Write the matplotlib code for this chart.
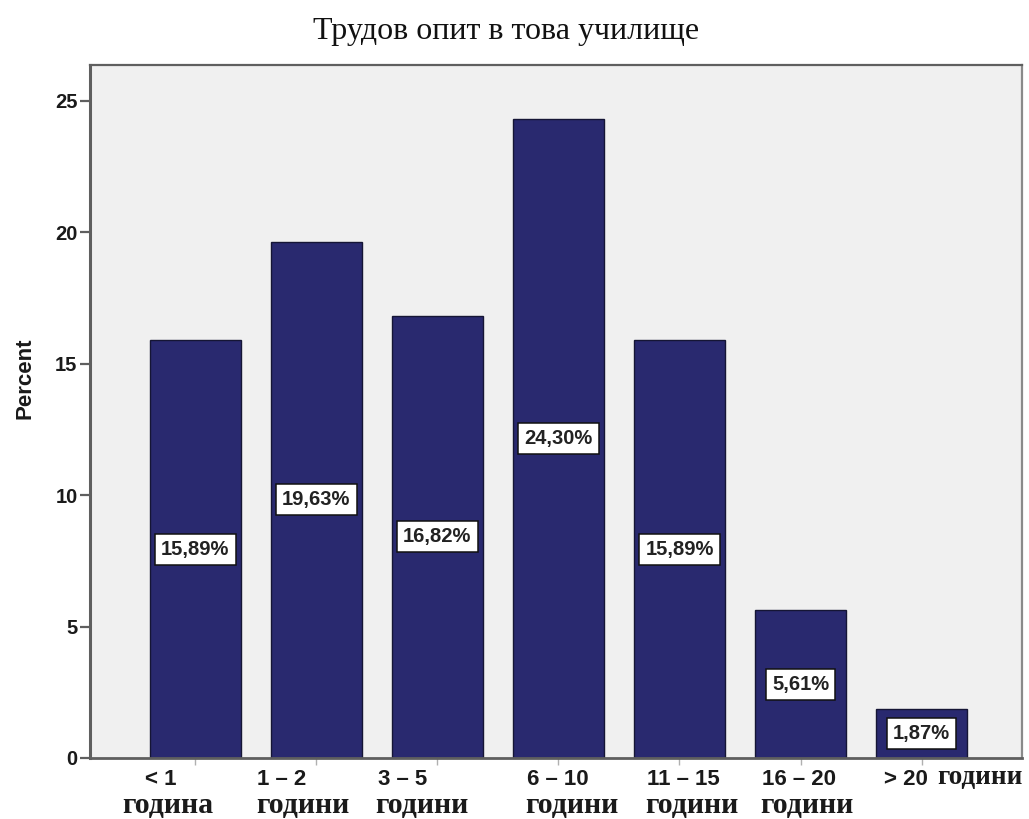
import matplotlib
matplotlib.use("Agg")
import matplotlib.pyplot as plt
from matplotlib.transforms import offset_copy

# Data
categories_top = ["< 1", "1 – 2", "3 – 5", "6 – 10", "11 – 15", "16 – 20", "> 20"]
categories_bottom = ["година", "години", "години", "години", "години", "години", "години"]
percent = [15.89, 19.63, 16.82, 24.30, 15.89, 5.61, 1.87]
title = "Трудов опит в това училище"
ylabel = "Percent"
yticks = [0, 5, 10, 15, 20, 25]

# Style
BAR = "#29296f"
BG = "#f0f0f0"
FRAME = "#5f5f5f"
SANS = ["Liberation Sans", "DejaVu Sans"]
SERIF = ["Liberation Serif", "DejaVu Serif"]

# label offsets in pixels relative to each bar centre (first line, second line)
dx_top = [-35, -35, -35, -1, 4, -2, -16]
dx_bot = [-28, -13, -16, 13, 12, 6, 16]
dy_bot = [-55, -55, -55, -55, -55, -55, -26]
ha_bot = ["center"] * 6 + ["left"]
fs_bot = [21.5] * 6 + [19.5]

fig = plt.figure(figsize=(10.29, 8.19), dpi=100)
fig.patch.set_facecolor("white")
ax = fig.add_axes([0.0875, 0.0745, 0.9057, 0.846])
ax.set_facecolor(BG)

x = list(range(len(percent)))
ax.bar(x, percent, width=0.755, color=BAR, edgecolor="#151535", linewidth=1.0, zorder=2)

ax.set_xlim(-0.87, 6.83)
ax.set_ylim(0, 26.35)

for s in ax.spines.values():
    s.set_color("#8a8a8a")
    s.set_linewidth(1.6)
ax.spines["left"].set_color(FRAME)
ax.spines["left"].set_linewidth(2.2)
ax.spines["bottom"].set_color(FRAME)
ax.spines["bottom"].set_linewidth(2.0)
ax.spines["top"].set_color(FRAME)

ax.set_yticks(yticks)
ax.set_yticklabels([str(v) for v in yticks], fontfamily=SANS, fontweight="bold",
                   fontsize=14.5, color="#1a1a1a")
ax.tick_params(axis="y", direction="out", length=7, width=1.6, color=FRAME, pad=2)
ax.set_xticks(x)
ax.set_xticklabels([""] * len(x))
ax.tick_params(axis="x", direction="out", length=5, width=1.0, color="#b0b0b0")

# value labels in white boxes at half bar height
for xi, v in zip(x, percent):
    ax.text(xi, v / 2, f"{v:.2f}".replace(".", ",") + "%", ha="center", va="center",
            fontfamily=SANS, fontweight="bold", fontsize=14.5, color="#222222", zorder=4,
            bbox=dict(boxstyle="square,pad=0.3", facecolor="white", edgecolor="#111111",
                      linewidth=1.1))

# two-line category labels
trans = ax.get_xaxis_transform()
for xi, t, b, dxt, dxb, dyb, hab, fsb in zip(x, categories_top, categories_bottom,
                                             dx_top, dx_bot, dy_bot, ha_bot, fs_bot):
    tr1 = offset_copy(trans, fig=fig, x=dxt, y=-27, units="dots")
    ax.text(xi, 0, t, transform=tr1, ha="center", va="baseline", fontfamily=SANS,
            fontweight="bold", fontsize=16, color="#1a1a1a", clip_on=False)
    tr2 = offset_copy(trans, fig=fig, x=dxb, y=dyb, units="dots")
    ax.text(xi, 0, b, transform=tr2, ha=hab, va="baseline", fontfamily=SERIF,
            fontweight="bold", fontsize=fsb, color="#1a1a1a", clip_on=False)

fig.text(506 / 1029, 1 - 31 / 819, title, ha="center", va="center", fontfamily=SERIF,
         fontsize=23, color="#111111")
fig.text(25 / 1029, 1 - 378 / 819, ylabel, ha="center", va="center", rotation=90,
         fontfamily=SANS, fontweight="bold", fontsize=16, color="#1a1a1a")

fig.savefig("out.png", dpi=100, facecolor="white")
